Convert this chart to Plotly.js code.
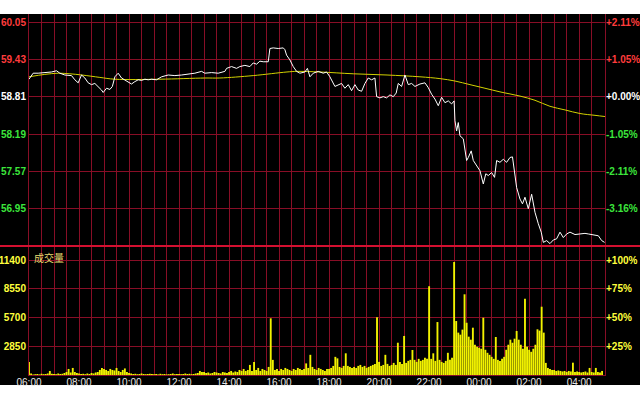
<!DOCTYPE html>
<html><head><meta charset="utf-8">
<script src="https://cdn.plot.ly/plotly-3.0.1.min.js"></script>
<style>html,body{margin:0;padding:0;background:#fff}#chart{width:640px;height:400px}</style>
</head><body><div id="chart"></div>
<script>
// ---------- data ----------
const priceTimes = ['06:00','06:10','06:22','06:38','06:54','07:06','07:14','07:26','07:42','07:50','07:58','08:06','08:14','08:22','08:30','08:38','08:46','08:54','08:58','09:06','09:14','09:20','09:26','09:34','09:42','09:50','09:58','10:06','10:14','10:22','10:30','10:38','10:46','10:54','11:06','11:18','11:34','11:50','12:06','12:22','12:38','12:54','13:02','13:18','13:34','13:50','13:54','14:06','14:18','14:26','14:38','14:50','14:58','15:06','15:14','15:22','15:34','15:38','15:46','15:58','16:10','16:14','16:18','16:26','16:34','16:42','16:50','17:02','17:08','17:14','17:22','17:34','17:46','17:54','18:02','18:14','18:22','18:30','18:38','18:46','18:54','19:02','19:10','19:18','19:26','19:34','19:42','19:50','19:54','20:02','20:10','20:18','20:26','20:34','20:41','20:46','20:54','21:02','21:10','21:18','21:26','21:34','21:38','21:50','21:58','22:06','22:14','22:22','22:30','22:38','22:46','22:54','23:00','23:02','23:06','23:10','23:14','23:22','23:26','23:30','23:34','23:41','23:46','23:54','00:02','00:10','00:16','00:22','00:30','00:37','00:42','00:50','00:58','01:06','01:14','01:20','01:22','01:30','01:38','01:44','01:50','01:58','02:06','02:14','02:22','02:29','02:34','02:42','02:50','02:58','03:06','03:14','03:22','03:30','03:38','03:50','04:02','04:14','04:22','04:34','04:46','04:54','05:01'];
const prices = [59.10,59.20,59.20,59.21,59.22,59.24,59.20,59.17,59.16,59.09,59.04,59.17,59.12,59.04,59.01,59.03,58.98,58.92,58.88,58.95,58.93,58.98,59.14,59.20,59.12,59.09,59.06,59.02,59.06,59.09,59.08,59.10,59.09,59.10,59.09,59.14,59.17,59.16,59.17,59.18,59.20,59.23,59.20,59.21,59.20,59.23,59.28,59.31,59.28,59.31,59.33,59.31,59.37,59.35,59.40,59.39,59.39,59.61,59.62,59.61,59.62,59.59,59.50,59.42,59.31,59.23,59.20,59.22,59.28,59.14,59.20,59.23,59.20,59.22,59.14,58.98,59.01,59.03,58.95,59.01,58.91,59.01,58.92,58.90,59.03,59.12,59.09,59.12,58.81,58.79,58.81,58.79,58.84,58.81,58.87,59.03,58.98,59.17,59.01,59.03,58.98,59.01,59.02,59.04,58.96,58.85,58.77,58.66,58.80,58.71,58.74,58.69,58.74,58.41,58.24,58.38,58.16,58.11,57.91,57.75,57.80,57.91,57.75,57.66,57.58,57.36,57.53,57.50,57.55,57.47,57.75,57.72,57.77,57.72,57.80,57.81,57.69,57.30,57.11,57.03,57.14,56.95,57.19,56.89,56.70,56.56,56.39,56.42,56.37,56.43,56.45,56.56,56.47,56.53,56.56,56.52,56.53,56.54,56.53,56.52,56.50,56.42,56.39];

const avgTimes = ['06:00','06:38','07:10','07:38','08:07','08:50','09:26','11:14','13:02','13:38','14:58','16:19','16:43','17:38','18:58','20:19','21:38','22:26','23:02','23:38','00:14','00:50','01:38','02:14','02:50','03:26','04:02','04:38','05:02'];
const avgPrices = [59.14,59.18,59.20,59.19,59.17,59.13,59.10,59.10,59.12,59.12,59.16,59.22,59.23,59.22,59.19,59.17,59.14,59.11,59.07,59.01,58.95,58.89,58.82,58.75,58.65,58.59,58.53,58.50,58.48];

// volume, one value per 5 minutes from 06:00
const volStart = '06:00';
const volStepMinutes = 5;
const volumes = [
1300,150,50,80,100,60,120,80,100,150,400,120,
100,80,150,100,120,200,300,600,250,700,300,200,
150,100,120,80,150,100,200,150,250,300,500,700,
600,500,400,600,500,450,700,400,300,500,650,300,
200,150,100,120,80,100,150,100,80,100,120,100,
80,100,60,120,80,100,60,80,100,150,80,100,
100,80,100,150,100,120,80,100,150,200,400,300,
300,200,250,150,200,300,250,200,150,300,250,200,
300,400,250,350,300,500,400,600,400,500,1000,400,
1300,500,700,400,600,500,400,800,5620,1500,500,600,
400,600,500,700,600,500,400,600,500,700,600,500,
600,1150,700,2000,800,600,500,700,600,500,400,600,
600,700,900,1800,1650,800,700,900,2150,900,800,700,
800,700,900,1000,800,900,700,800,900,1000,1100,5720,
1300,900,1000,2000,1100,900,1000,1200,1000,3200,1300,1100,
3870,1200,1400,1500,2480,1500,1300,1600,1400,1500,1700,1600,
8800,1600,2150,1400,5250,1500,1300,1200,1400,2200,1500,1700,
11200,5350,4200,4000,4500,8000,5180,3800,3500,4690,3000,2800,
2700,2600,5680,2500,2200,2000,1800,1600,3770,1500,1400,1600,
1800,2500,3000,3500,3200,3600,4360,3500,3000,2600,7560,2800,
2500,2300,2600,3000,4530,4400,6770,4200,1200,700,600,500,
500,400,450,400,350,400,300,400,350,1220,300,350,
300,250,300,350,250,700,300,250,700,300,250,400];

const prevClose = 58.81;
const priceTicks = [60.05, 59.43, 58.81, 58.19, 57.57, 56.95];
const pctTicks = ['+2.11%', '+1.05%', '+0.00%', '-1.05%', '-2.11%', '-3.16%'];
const volTicks = [11400, 8550, 5700, 2850];
const volPctTicks = ['+100%', '+75%', '+50%', '+25%'];
const volLabel = '成交量';

// ---------- helpers ----------
const DAY1 = '2024-01-01', DAY2 = '2024-01-02';
function toDate(hhmm) {
  const h = parseInt(hhmm.split(':')[0], 10);
  return (h < 6 ? DAY2 : DAY1) + ' ' + hhmm;
}
function pad(n){ return (n < 10 ? '0' : '') + n; }
const vs = volStart.split(':').map(Number);
const volTimes = volumes.map((v, i) => {
  const mins = vs[0]*60 + vs[1] + i*volStepMinutes;
  const d = mins >= 1440 ? DAY2 : DAY1;
  const mm = mins % 1440;
  return d + ' ' + pad(Math.floor(mm/60)) + ':' + pad(mm%60);
});

const RED = '#ff3c3c', GREEN = '#3ce63c', WHITE = '#ffffff', YELLOW = '#ffff3c';
function col(v){ return Math.abs(v - prevClose) < 1e-6 ? WHITE : (v > prevClose ? RED : GREEN); }
const priceText = priceTicks.map(v => `<span style="color:${col(v)}">${v.toFixed(2)}</span>`);
const pctText = priceTicks.map((v, i) => `<span style="color:${col(v)}">${pctTicks[i]}</span>`);

// ---------- layout geometry ----------
const plotW = 576, plotH = 361;
const volFrac = 129 / plotH;
const xStart = DAY1 + ' 06:00', xEnd = DAY2 + ' 05:02';
const gridColor = '#880e26';
const FONT = 'Liberation Sans, Arial, sans-serif';

const traces = [
  {x: volTimes, y: volumes, type: 'bar', xaxis: 'x', yaxis: 'y2',
   width: volStepMinutes*60000*0.9, marker: {color: '#f2f200', line: {width: 0}}, hoverinfo: 'skip'},
  {x: avgTimes.map(toDate), y: avgPrices, type: 'scatter', mode: 'lines', xaxis: 'x2', yaxis: 'y',
   line: {color: '#d2d200', width: 1, shape: 'spline'}, hoverinfo: 'skip'},
  {x: priceTimes.map(toDate), y: prices, type: 'scatter', mode: 'lines', xaxis: 'x2', yaxis: 'y',
   line: {color: '#ffffff', width: 1}, hoverinfo: 'skip'},
  {x: [toDate('06:00')], y: [prevClose], type: 'scatter', mode: 'markers', xaxis: 'x2', yaxis: 'y3',
   marker: {opacity: 0}, hoverinfo: 'skip'},
  {x: [toDate('06:00')], y: [0], type: 'scatter', mode: 'markers', xaxis: 'x', yaxis: 'y4',
   marker: {opacity: 0}, hoverinfo: 'skip'}
];

const xCommon = {
  type: 'date', range: [xStart, xEnd], tick0: xStart, dtick: 7200000, tickformat: '%H:%M',
  ticks: '', showgrid: true, gridcolor: gridColor, gridwidth: 1, zeroline: false,
  minor: {tick0: xStart, dtick: 1800000, showgrid: true, gridcolor: gridColor, gridwidth: 1}
};
const priceRange = [56.33, 60.183];
const volRange = [0, 12788];

const layout = {
  width: 640, height: 400,
  margin: {l: 29, r: 35, t: 14, b: 25, pad: 0},
  paper_bgcolor: '#000000', plot_bgcolor: '#000000',
  showlegend: false,
  font: {family: FONT, size: 10, color: '#ffffff'},
  xaxis: Object.assign({}, xCommon, {anchor: 'y2', showline: true, linecolor: gridColor,
    tickfont: {family: FONT, size: 10, color: '#e8e8e8'}, ticklabelstandoff: -2}),
  xaxis2: Object.assign({}, xCommon, {anchor: 'y', matches: 'x', showticklabels: false}),
  yaxis: {domain: [volFrac, 1], anchor: 'x2', range: priceRange, tickvals: priceTicks, ticktext: priceText,
    ticks: '', showgrid: true, gridcolor: gridColor, zeroline: false, showline: true, mirror: true,
    linecolor: gridColor, tickfont: {family: FONT, size: 10, weight: 'bold'}},
  yaxis3: {overlaying: 'y', side: 'right', anchor: 'x2', range: priceRange, tickvals: priceTicks, ticktext: pctText,
    ticks: '', showgrid: false, zeroline: false, tickfont: {family: FONT, size: 10, weight: 'bold'}},
  yaxis2: {domain: [0, volFrac], anchor: 'x', range: volRange, tickvals: volTicks, ticktext: volTicks.map(String),
    ticks: '', showgrid: true, gridcolor: gridColor, zeroline: false, showline: true, mirror: true,
    linecolor: gridColor, tickfont: {family: FONT, size: 10, color: YELLOW, weight: 'bold'}},
  yaxis4: {overlaying: 'y2', side: 'right', anchor: 'x', range: volRange, tickvals: volTicks, ticktext: volPctTicks,
    ticks: '', showgrid: false, zeroline: false, tickfont: {family: FONT, size: 10, color: YELLOW, weight: 'bold'}},
  shapes: [
    {type: 'rect', xref: 'paper', yref: 'paper', x0: -0.1, x1: 1.1, y0: 1, y1: 1.2,
     fillcolor: '#ffffff', line: {width: 0}, layer: 'below'},
    {type: 'rect', xref: 'paper', yref: 'paper', x0: -0.1, x1: 1.1, y0: -0.2, y1: -10/plotH,
     fillcolor: '#ffffff', line: {width: 0}, layer: 'below'},
    {type: 'line', xref: 'paper', yref: 'paper', x0: -29/plotW, x1: 1 + 35/plotW, y0: volFrac, y1: volFrac,
     line: {color: '#d41030', width: 2}, layer: 'above'}
  ],
  annotations: [
    {xref: 'paper', yref: 'paper', x: 3/plotW, y: volFrac - 2/plotH, xanchor: 'left', yanchor: 'top',
     text: volLabel, showarrow: false,
     font: {family: 'Noto Sans CJK SC, sans-serif', size: 10, color: '#e6d870'}}
  ]
};

Plotly.newPlot('chart', traces, layout, {staticPlot: true, displayModeBar: false});
</script>
</body></html>
